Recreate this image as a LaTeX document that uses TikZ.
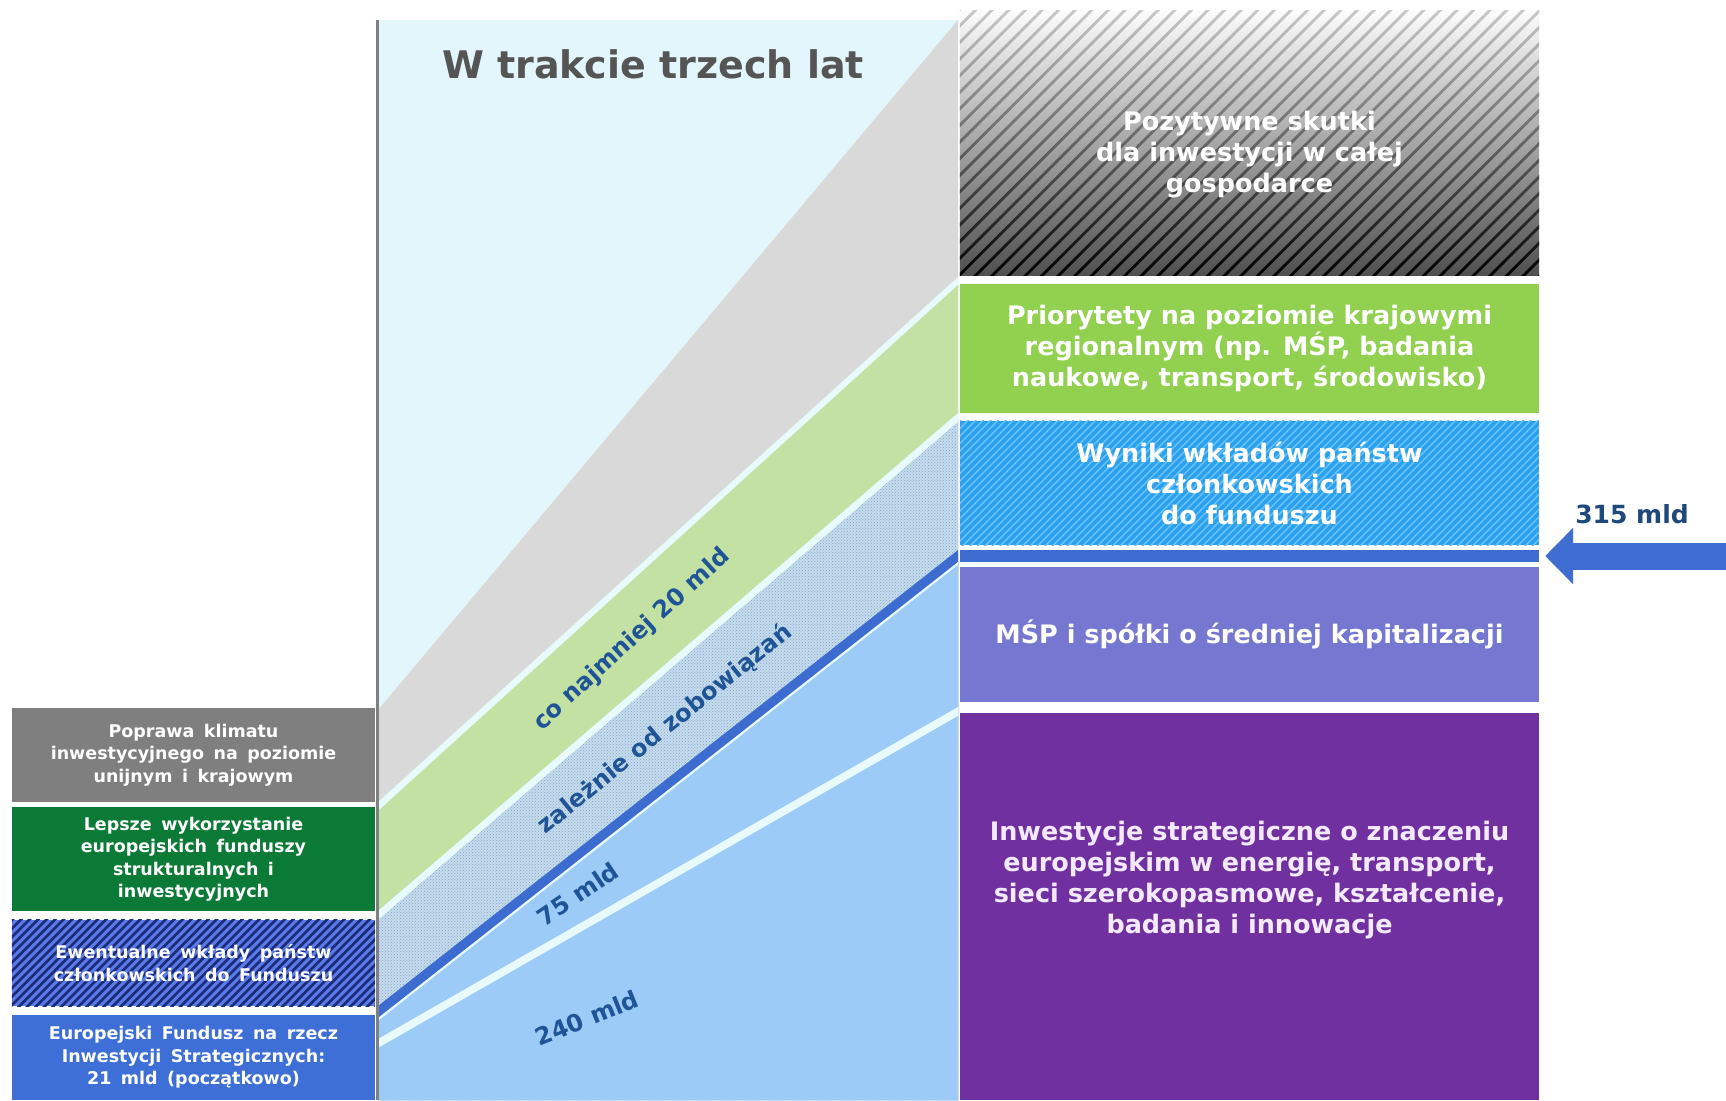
\documentclass[tikz,border=0pt]{standalone}
\usepackage{fontspec}
\setmainfont{DejaVu Sans}
\usetikzlibrary{patterns,arrows.meta}
\definecolor{bgcyan}{HTML}{E3F6FB}
\definecolor{sepcyan}{HTML}{E9FAFD}
\definecolor{bandgray}{HTML}{D9D9D9}
\definecolor{bandgreen}{HTML}{C4E1A4}
\definecolor{dotbase}{HTML}{C6DCEE}
\definecolor{dotfg}{HTML}{85A8C8}
\definecolor{barblue}{HTML}{3D6CD1}
\definecolor{lightblue}{HTML}{9CCBF8}
\definecolor{lgray}{HTML}{7F7F7F}
\definecolor{lgreen}{HTML}{0C7A37}
\definecolor{lhatch}{HTML}{5A7BE6}
\definecolor{lnavy}{HTML}{1C2B7C}
\definecolor{lblue}{HTML}{3E6FD6}
\definecolor{rgreen}{HTML}{92D050}
\definecolor{rhatch}{HTML}{2AA0EE}
\definecolor{rhatchln}{HTML}{66C0F8}
\definecolor{rlav}{HTML}{7677D0}
\definecolor{rpurple}{HTML}{7030A0}
\definecolor{labelblue}{HTML}{1F5596}
\definecolor{darklabel}{HTML}{1F497D}
\definecolor{titlegray}{HTML}{555555}
\definecolor{arrowblue}{HTML}{3F6DD2}
\definecolor{vline}{HTML}{808080}
\definecolor{gtop}{HTML}{FCFCFC}
\definecolor{gbot}{HTML}{505050}
\definecolor{stop}{HTML}{C8C8C8}
\definecolor{purpletext}{HTML}{F3EAFF}
\newcommand\lbfont{\fontsize{17.5}{22.5}\selectfont\bfseries\spaceskip=9.5pt plus 2pt minus 1pt\relax}
\newcommand\rbfont{\fontsize{25.5}{31}\selectfont\bfseries}
\newcommand\bandfont{\fontsize{24}{28}\selectfont\bfseries}
\newcommand\ttlfont{\fontsize{38}{44}\selectfont\bfseries}
\begin{document}
\begin{tikzpicture}[x=1pt,y=-1pt,
  lbox/.style={rectangle, inner sep=0pt, minimum width=363pt, align=center, text=white, font=\lbfont},
  rbox/.style={rectangle, inner sep=0pt, minimum width=579pt, align=center, text=white, font=\rbfont},
  rtext/.style={inner sep=0pt, align=center, text=white, font=\rbfont},
  ltext/.style={inner sep=0pt, align=center, text=white, font=\lbfont},
  bandlabel/.style={inner sep=0pt, text=labelblue, font=\bandfont}]
\useasboundingbox (0,0) rectangle (1726,1100);
\fill[white] (0,0) rectangle (1726,1100);

% ---------- middle diagonal bands ----------
\fill[bgcyan] (378,20) rectangle (958,1100);
\fill[bandgray]  (378,710)  -- (958,20)  -- (958,1100) -- (378,1100) -- cycle;
\fill[sepcyan]   (378,802)  -- (958,277) -- (958,1100) -- (378,1100) -- cycle;
\fill[bandgreen] (378,811)  -- (958,285) -- (958,1100) -- (378,1100) -- cycle;
\fill[sepcyan]   (378,911)  -- (958,413) -- (958,1100) -- (378,1100) -- cycle;
\fill[dotbase]   (378,920)  -- (958,422) -- (958,1100) -- (378,1100) -- cycle;
\fill[pattern=crosshatch dots, pattern color=dotfg] (378,920) -- (958,422) -- (958,1100) -- (378,1100) -- cycle;
\fill[barblue]   (378,1006) -- (958,550) -- (958,1100) -- (378,1100) -- cycle;
\fill[sepcyan]   (378,1018) -- (958,562) -- (958,1100) -- (378,1100) -- cycle;
\fill[lightblue] (378,1021) -- (958,565) -- (958,1100) -- (378,1100) -- cycle;
\fill[sepcyan]   (378,1039) -- (958,707) -- (958,1100) -- (378,1100) -- cycle;
\fill[lightblue] (378,1048) -- (958,716) -- (958,1100) -- (378,1100) -- cycle;

\draw[vline, line width=3pt] (377,20) -- (377,1100);

\node[font=\ttlfont, text=titlegray, inner sep=0pt] (title) at (653,64) {W trakcie trzech lat};

\node[bandlabel, rotate=42.5] (lab20)  at (632,640)  {co najmniej 20 mld};
\node[bandlabel, rotate=39]   (labzal) at (665,729)  {zależnie od zobowiązań};
\node[bandlabel, rotate=34]   (lab75)  at (578,894)  {75 mld};
\node[bandlabel, rotate=22]   (lab240) at (587,1018) {240 mld};

% ---------- left column ----------
\node[lbox, fill=lgray, minimum height=94pt] (poprawa) at (193.5,755)
  {Poprawa klimatu\\inwestycyjnego na poziomie\\unijnym i krajowym};
\node[lbox, fill=lgreen, minimum height=104pt] (lepsze) at (193.5,859)
  {Lepsze wykorzystanie\\europejskich funduszy\\strukturalnych i\\inwestycyjnych};
\node[lbox, fill=lhatch, minimum height=86pt] (ewent) at (193.5,963) {};
\begin{scope}
  \clip (ewent.south west) rectangle (ewent.north east);
  \foreach \i in {0,...,54} \draw[lnavy, line width=2.6pt] (-76+\i*8.5,1008) -- ++(90,-90);
\end{scope}
\node[ltext, text=white] (ewtext) at (ewent.center)
  {Ewentualne wkłady państw\\członkowskich do Funduszu};
\node[lbox, fill=lblue, minimum height=85pt] (efis) at (193.5,1057.5)
  {Europejski Fundusz na rzecz\\Inwestycji Strategicznych:\\21 mld (początkowo)};

% ---------- right column ----------
\node[rbox, minimum height=264pt] (pos) at (1249.5,143) {};
\begin{scope}
  \clip (pos.north west) rectangle (pos.south east);
  \shade[top color=gtop, bottom color=gbot] (pos.north west) rectangle (pos.south east);
  \clip foreach \i in {0,...,52} { (690+\i*16.6,277) -- ++(4,0) -- ++(268,-268) -- ++(-4,0) -- cycle };
  \shade[top color=stop, bottom color=black] (pos.north west) rectangle (pos.south east);
\end{scope}
\node[rtext] (postext) at ([yshift=-12pt]pos.center)
  {Pozytywne skutki\\dla inwestycji w całej\\gospodarce};

\node[rbox, fill=rgreen, minimum height=129pt] (prio) at (1249.5,348.5)
  {Priorytety na poziomie krajowymi\\regionalnym (np. MŚP, badania\\naukowe, transport, środowisko)};

\node[rbox, fill=rhatch, minimum height=124pt] (wyniki) at (1249.5,483) {};
\begin{scope}
  \clip (wyniki.north west) rectangle (wyniki.south east);
  \foreach \i in {0,...,96} \draw[rhatchln, line width=1.5pt] (834+\i*7.5,547) -- ++(128,-128);
\end{scope}
\node[rtext] (wyntext) at (wyniki.center)
  {Wyniki wkładów państw\\członkowskich\\do funduszu};

\node[rbox, fill=barblue, minimum height=12pt] (bar) at (1249.5,556) {};

\node[rbox, fill=rlav, minimum height=135pt] (msp) at (1249.5,634.5)
  {MŚP i spółki o średniej kapitalizacji};

\node[rbox, fill=rpurple, minimum height=387pt] (inw) at (1249.5,906.5) {};
\node[rtext, text=purpletext] (inwtext) at ([yshift=26pt]inw.center)
  {Inwestycje strategiczne o znaczeniu\\europejskim w energię, transport,\\sieci szerokopasmowe, kształcenie,\\badania i innowacje};

% ---------- arrow ----------
\coordinate (arrstart) at (1726,556);
\draw[arrowblue, line width=27pt, -{Triangle[length=28pt,width=55pt]}, shorten >=6pt] (arrstart) -- (bar.east);
\node[font=\fontsize{25}{30}\selectfont\bfseries, text=darklabel, inner sep=0pt] (lbl315) at (1632,514) {315 mld};
\end{tikzpicture}
\end{document}
